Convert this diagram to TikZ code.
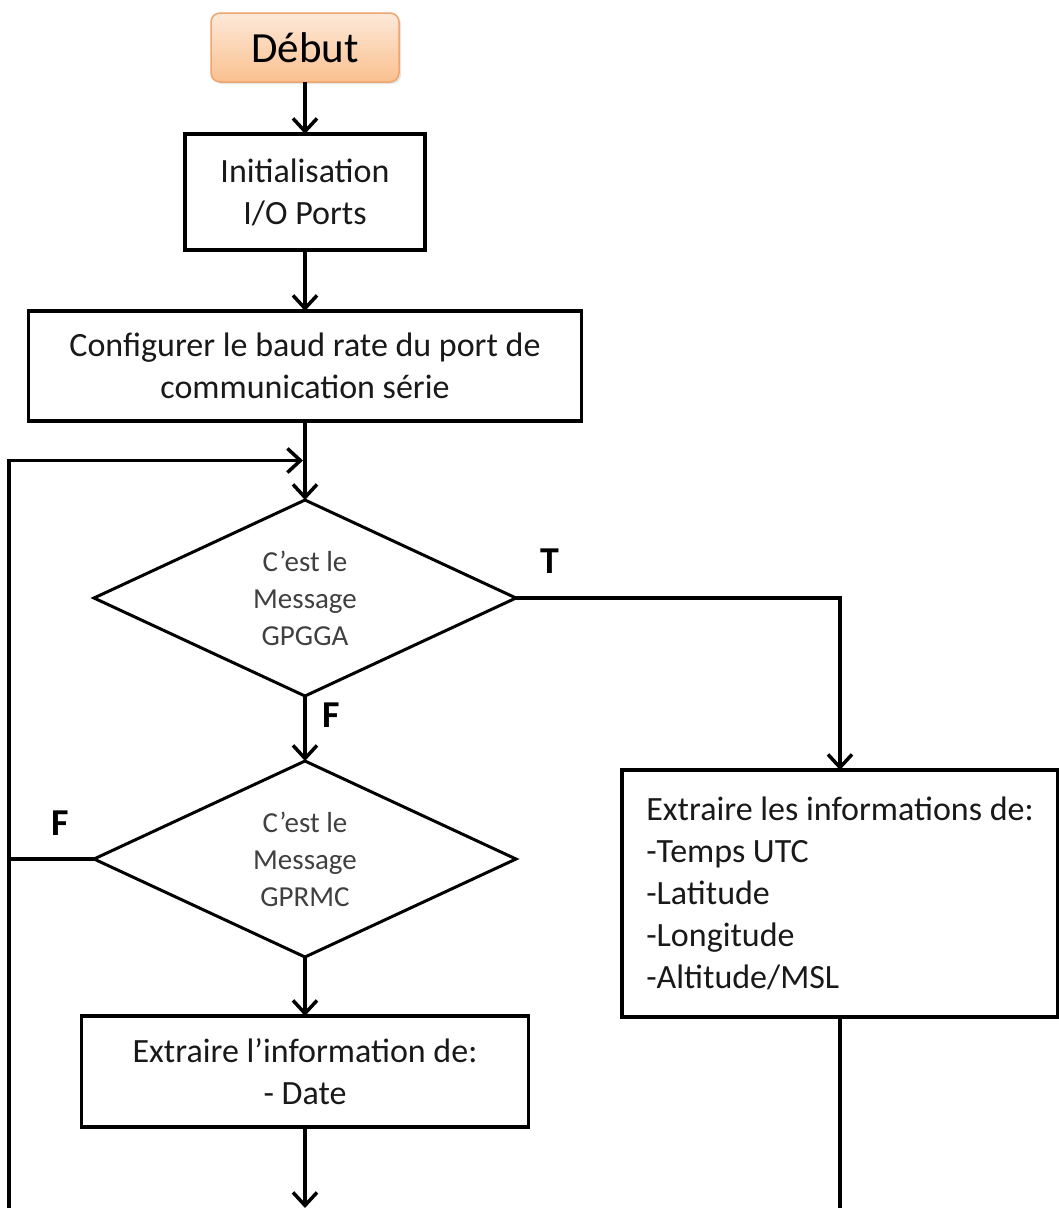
\documentclass[tikz,border=0pt]{standalone}
\usepackage{fontspec}
\setmainfont{Carlito}
\usepackage{tikz}
\usetikzlibrary{shapes.geometric, positioning, arrows.meta, calc, shadows}
\definecolor{debuttop}{RGB}{253,233,217}
\definecolor{debutbot}{RGB}{250,192,143}
\definecolor{debutline}{RGB}{238,165,110}
\tikzset{
  startstop/.style={rectangle, rounded corners=9pt, minimum width=188pt, minimum height=69pt, align=center, draw=debutline, line width=1.5pt, top color=debuttop, bottom color=debutbot, drop shadow={opacity=0.2, shadow xshift=2pt, shadow yshift=-2pt}, font=\fontsize{43}{50}\selectfont, outer sep=0pt},
  process/.style={rectangle, align=center, draw=black, line width=3.5pt, fill=white, font=\fontsize{34}{42}\selectfont, text=black!90, inner sep=0pt, outer sep=0pt},
  decision/.style={diamond, aspect=2.15, minimum width=422pt, minimum height=196pt, align=center, draw=black, line width=3pt, text=black!75, font=\fontsize{29}{37}\selectfont, inner sep=0pt, outer sep=0pt},
  arrow/.style={line width=3.5pt, -{Straight Barb[length=13pt, width=24pt]}},
  link/.style={line width=3.5pt},
  lbl/.style={font=\fontsize{38}{40}\selectfont\bfseries, inner sep=0pt}
}

\begin{document}
\begin{tikzpicture}[x=1pt, y=-1pt]
        \useasboundingbox (0,0) rectangle (1059,1208);
        \node (start) [startstop] at (305,47.5) {Début};
        \node (init) [process, below=52pt of start, minimum width=240pt, minimum height=116pt] {Initialisation\\I/O Ports};
        \node (config) [process, below=61pt of init, minimum width=553pt, minimum height=110pt] {Configurer le baud rate du port de\\communication série};
        \node (gpgga) [decision, below=79pt of config] {C’est le\\Message\\GPGGA};
        \node (gprmc) [decision, below=65pt of gpgga] {C’est le\\Message\\GPRMC};
        \node (date) [process, below=59pt of gprmc, minimum width=447pt, minimum height=111pt] {Extraire l’information de:\\- Date};
        \node (extract) [process, align=left, minimum width=436pt, minimum height=247pt] at (840,893.5) {Extraire les informations de:\\-Temps UTC\\-Latitude\\-Longitude\\-Altitude/MSL};

        \coordinate (loop) at ($(config.south)!0.5!(gpgga.north)$);
        \coordinate (leftx) at (9,0);
        \coordinate (bot) at (0,1208);

        \draw [arrow] (start) -- (init);
        \draw [arrow] (init) -- (config);
        \draw [arrow] (config) -- (gpgga);

        % branche "T" vers l'extraction GPGGA
        \draw [arrow] (gpgga.east) -| node[lbl, pos=0.053, above=23pt] (labT) {T} (extract.north);

        % branche "F" vers le test GPRMC
        \draw [arrow] (gpgga.south) -- node[lbl, pos=0.3, right=16pt] (labF1) {F} (gprmc.north);

        % branche "F" de GPRMC - retour au debut de la boucle
        \draw [link] (gprmc.west) -- node[lbl, pos=0.4, above=22pt] (labF2) {F} (gprmc.west -| leftx);
        \draw [arrow, shorten >=2pt] (bot -| leftx) |- (loop);

        \draw [arrow] (gprmc) -- (date);
        \draw [arrow] (date.south) -- (date.south |- bot);
        \draw [link] (extract.south) -- (extract.south |- bot);

    \end{tikzpicture}
\end{document}
